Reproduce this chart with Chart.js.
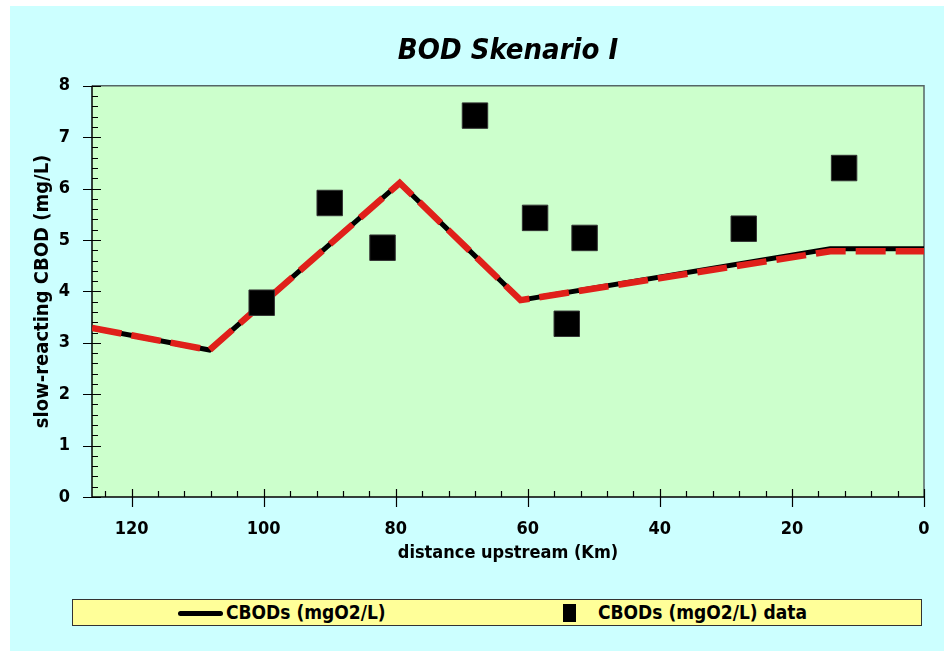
<!DOCTYPE html>
<html>
<head>
<meta charset="utf-8">
<script src="https://cdn.jsdelivr.net/npm/chart.js@4.4.1/dist/chart.umd.min.js"></script>
<style>
    html, body { margin: 0; padding: 0; background: #ffffff; }
    #wrap { position: relative; width: 944px; height: 651px; }
    #legend {
        position: absolute; left: 72px; top: 599px; width: 848px; height: 25px;
        background: #ffff99; border: 1.5px solid #333;
        font: bold 19px "DejaVu Sans Condensed", "Liberation Sans", Arial, sans-serif;
        color: #000;
    }
    .item { position: absolute; top: 1px; line-height: 22px; white-space: nowrap; }
    .sym-line { position: absolute; left: 105px; top: 11px; width: 45px; height: 5px; background: #000; border-radius: 3px; }
    .sym-box { position: absolute; left: 490px; top: 4px; width: 13px; height: 18px; background: #000; }
</style>
</head>
<body>
<div id="wrap">
    <canvas id="bodChart" width="944" height="651"></canvas>
    <div id="legend">
        <span class="sym-line"></span>
        <span class="item" id="lgLine" style="left:153px"></span>
        <span class="sym-box"></span>
        <span class="item" id="lgObs" style="left:525px"></span>
    </div>
</div>
<script>
// model results (distance upstream in km, slow CBOD mg/L)
const distModel = [126, 108.2, 79.4, 61.1, 14.2, 0];
const cbodModel = [3.29, 2.86, 6.11, 3.83, 4.83, 4.83];
// second model run drawn as red dashes
const distModel2 = [126, 108.2, 79.4, 61.1, 14.2, 0];
const cbodModel2 = [3.29, 2.86, 6.11, 3.83, 4.78, 4.78];
// observed data
const distObs = [100.3, 90.0, 82.0, 68.0, 58.9, 54.1, 51.4, 27.3, 12.1];
const cbodObs = [3.78, 5.72, 4.85, 7.42, 5.43, 3.37, 5.04, 5.22, 6.40];

const xTicks = [0, 20, 40, 60, 80, 100, 120];
const yTicks = [0, 1, 2, 3, 4, 5, 6, 7, 8];

const lineLabel = "CBODs (mgO2/L)";
const obsLabel = "CBODs (mgO2/L) data";

const FONT = '"DejaVu Sans Condensed", "Liberation Sans", Arial, sans-serif';

function toPoints(xs, ys) {
    return xs.map((x, i) => ({ x: x, y: ys[i] }));
}

document.getElementById("lgLine").textContent = lineLabel;
document.getElementById("lgObs").textContent = obsLabel;

const framePlugin = {
    id: "frame",
    beforeDraw(chart) {
        const ctx = chart.ctx;
        const a = chart.chartArea;
        ctx.save();
        ctx.fillStyle = "#ffffff";
        ctx.fillRect(0, 0, chart.width, chart.height);
        ctx.fillStyle = "#ccffff";
        ctx.fillRect(10, 6, chart.width - 10, chart.height - 6);
        ctx.fillStyle = "#ccffcc";
        ctx.fillRect(a.left, a.top, a.right - a.left, a.bottom - a.top);
        ctx.restore();
    },
    beforeDatasetsDraw(chart) {
        const ctx = chart.ctx;
        const a = chart.chartArea;
        const xs = chart.scales.x;
        const ys = chart.scales.y;
        ctx.save();
        // top and right frame
        ctx.strokeStyle = "#556666";
        ctx.lineWidth = 1.5;
        ctx.beginPath();
        ctx.moveTo(a.left, a.top);
        ctx.lineTo(a.right, a.top);
        ctx.lineTo(a.right, a.bottom);
        ctx.stroke();
        // axes
        ctx.strokeStyle = "#000";
        ctx.lineWidth = 1.5;
        ctx.beginPath();
        ctx.moveTo(a.left, a.top);
        ctx.lineTo(a.left, a.bottom);
        ctx.lineTo(a.right, a.bottom);
        ctx.stroke();
        // x tick marks
        ctx.lineWidth = 1.2;
        ctx.beginPath();
        for (let v = 0; v <= xs.max; v += 4) {
            const px = Math.round(xs.getPixelForValue(v)) + 0.5;
            const major = v % 20 === 0;
            ctx.moveTo(px, a.bottom - (major ? 8 : 6));
            ctx.lineTo(px, a.bottom + (major ? 10 : 0));
        }
        // y tick marks
        for (let i = 0; i <= 40; i++) {
            const py = Math.round(ys.getPixelForValue(i / 5)) + 0.5;
            const major = i % 5 === 0;
            ctx.moveTo(a.left - (major ? 9 : 0), py);
            ctx.lineTo(a.left + (major ? 9 : 6), py);
        }
        ctx.stroke();
        ctx.restore();
    },
};

const config = {
    type: "scatter",
    data: {
        datasets: [
            {
                label: obsLabel,
                data: toPoints(distObs, cbodObs),
                pointStyle: "rect",
                pointRadius: 18,
                pointHoverRadius: 18,
                backgroundColor: "#000",
                borderColor: "#333",
                borderWidth: 1,
                order: 0,
            },
            {
                label: "",
                data: toPoints(distModel2, cbodModel2),
                showLine: true,
                pointRadius: 0,
                borderColor: "#e0201a",
                borderWidth: 6.5,
                borderDash: [30, 10],
                borderCapStyle: "butt",
                order: 1,
            },
            {
                label: lineLabel,
                data: toPoints(distModel, cbodModel),
                showLine: true,
                pointRadius: 0,
                borderColor: "#000",
                borderWidth: 5,
                order: 2,
            },
        ],
    },
    options: {
        responsive: false,
        animation: false,
        devicePixelRatio: 1,
        layout: {
            padding: { left: 20, right: 20, top: 0, bottom: 86 },
        },
        scales: {
            x: {
                type: "linear",
                reverse: true,
                min: 0,
                max: 126,
                grid: { display: false },
                border: { display: false },
                afterBuildTicks: (s) => { s.ticks = xTicks.map((v) => ({ value: v })); },
                afterFit: (s) => { s.height = 68; },
                ticks: {
                    autoSkip: false,
                    maxRotation: 0,
                    padding: 14,
                    color: "#000",
                    font: { family: FONT, size: 18, weight: "bold" },
                },
                title: {
                    display: true,
                    text: "distance upstream (Km)",
                    color: "#000",
                    font: { family: FONT, size: 18, weight: "bold" },
                    padding: { top: 0, bottom: 1 },
                },
            },
            y: {
                min: 0,
                max: 8,
                grid: { display: false },
                border: { display: false },
                afterBuildTicks: (s) => { s.ticks = yTicks.map((v) => ({ value: v })); },
                afterFit: (s) => { s.width = 72; },
                ticks: {
                    padding: 14,
                    color: "#000",
                    font: { family: FONT, size: 18, weight: "bold" },
                },
                title: {
                    display: true,
                    text: "slow-reacting CBOD (mg/L)",
                    color: "#000",
                    font: { family: FONT, size: 20, weight: "bold" },
                    padding: 11,
                },
            },
        },
        plugins: {
            legend: { display: false },
            tooltip: { enabled: false },
            title: {
                display: true,
                fullSize: false,
                text: "BOD Skenario I",
                color: "#000",
                font: { family: FONT, size: 29, weight: "bold", style: "italic" },
                padding: { top: 34, bottom: 17 },
            },
        },
    },
    plugins: [framePlugin],
};

var bodChart = new Chart(document.getElementById("bodChart"), config);
</script>
</body>
</html>
